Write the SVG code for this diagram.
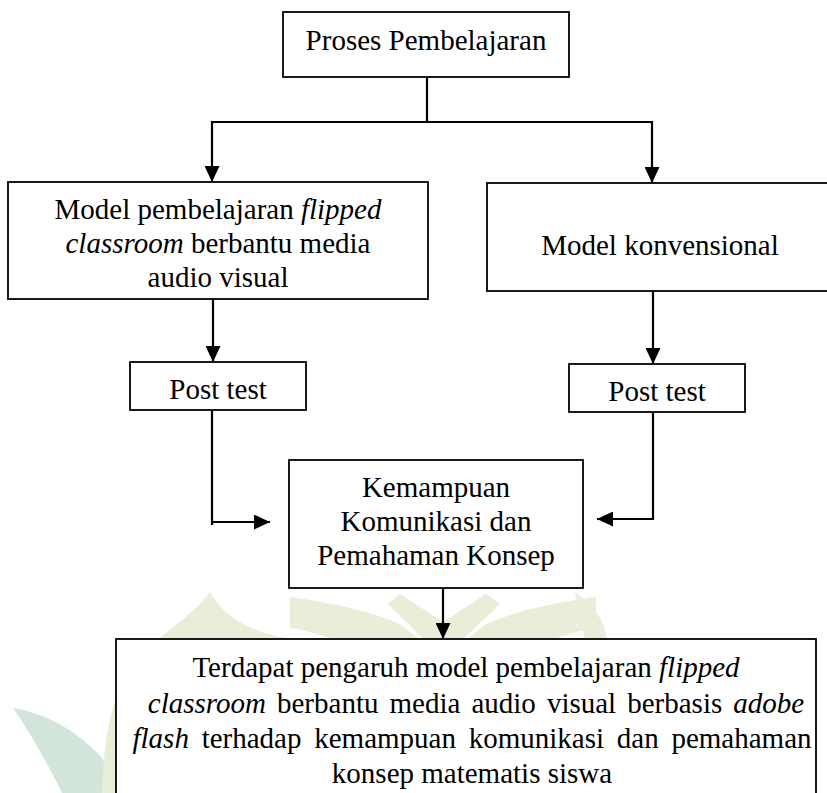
<svg xmlns="http://www.w3.org/2000/svg" width="827" height="793" viewBox="0 0 827 793">
<defs>
<style>
.box{fill:#fff;stroke:#000;stroke-width:1.8}
.t{font-family:"Liberation Serif","Times New Roman",serif;font-size:29px;fill:#000;text-anchor:middle}
.i{font-style:italic}
.c{fill:none;stroke:#000;stroke-width:2.2}
.wg{fill:#e8eed7}
.wt{fill:#d3e5db}
</style>
<marker id="ah" markerUnits="userSpaceOnUse" markerWidth="17" markerHeight="15" refX="16" refY="7.5" orient="auto">
<path d="M0,0 L16,7.5 L0,15 Z" fill="#000"/>
</marker>
</defs>
<rect width="827" height="793" fill="#fff"/>
<g id="watermark">
<path class="wt" d="M13,708 C50,714 85,735 110,768 L104,793 L62,793 C48,765 32,735 13,708 Z"/>
<path class="wg" d="M210,592 C196,612 165,632 140,655 C118,680 104,720 102,793 L140,793 L140,640 L300,640 C262,636 226,622 210,592 Z"/>
<path class="wg" d="M290,597 C335,603 372,612 400,624 L420,640 L335,640 C315,633 300,629 290,628 Z"/>
<path class="wg" d="M400,594 L443,622 L486,594 L500,604 L462,640 L424,640 L388,604 Z"/>
<path class="wg" d="M596,597 C551,603 514,612 486,624 L466,640 L551,640 C571,633 586,629 596,628 Z"/>
<path class="wg" d="M575,592 C595,606 605,622 607,640 L585,640 Z"/>
</g>
<g id="connectors">
<path class="c" d="M427,77 V122"/>
<path class="c" d="M212,122 H652"/>
<path class="c" d="M212,121 V182" marker-end="url(#ah)"/>
<path class="c" d="M652,121 V183" marker-end="url(#ah)"/>
<path class="c" d="M213,299 V362" marker-end="url(#ah)"/>
<path class="c" d="M653,287 V364" marker-end="url(#ah)"/>
<path class="c" d="M212,410 V525"/>
<path class="c" d="M211,522 H270" marker-end="url(#ah)"/>
<path class="c" d="M653,412 V520"/>
<path class="c" d="M654,519 H597" marker-end="url(#ah)"/>
<path class="c" d="M443,588 V639" marker-end="url(#ah)"/>
</g>
<g id="proses">
<rect class="box" x="283" y="12" width="286" height="65"/>
<text class="t" x="426" y="50">Proses Pembelajaran</text>
</g>
<g id="flipped">
<rect class="box" x="8" y="182" width="420" height="117"/>
<text class="t" x="218" y="219">Model pembelajaran <tspan class="i">flipped</tspan></text>
<text class="t" x="218" y="253"><tspan class="i">classroom</tspan> berbantu media</text>
<text class="t" x="218" y="287">audio visual</text>
</g>
<g id="konvensional">
<rect class="box" x="487" y="183" width="348" height="108"/>
<text class="t" x="660" y="255">Model konvensional</text>
</g>
<g id="posttest1">
<rect class="box" x="130" y="362" width="176" height="48"/>
<text class="t" x="218" y="399">Post test</text>
</g>
<g id="posttest2">
<rect class="box" x="569" y="364" width="176" height="48"/>
<text class="t" x="657" y="401">Post test</text>
</g>
<g id="kemampuan">
<rect class="box" x="289" y="460" width="294" height="128"/>
<text class="t" x="436" y="497">Kemampuan</text>
<text class="t" x="436" y="531">Komunikasi dan</text>
<text class="t" x="436" y="565">Pemahaman Konsep</text>
</g>
<g id="kesimpulan">
<rect class="box" x="116" y="639" width="700" height="170"/>
<text class="t" x="466" y="677">Terdapat pengaruh model pembelajaran <tspan class="i">flipped</tspan></text>
<text class="t" x="476" y="713" word-spacing="3.8"><tspan class="i">classroom</tspan> berbantu media audio visual berbasis <tspan class="i">adobe</tspan></text>
<text class="t" x="472" y="748" word-spacing="5.5"><tspan class="i">flash</tspan> terhadap kemampuan komunikasi dan pemahaman</text>
<text class="t" x="472" y="783">konsep matematis siswa</text>
</g>
</svg>
